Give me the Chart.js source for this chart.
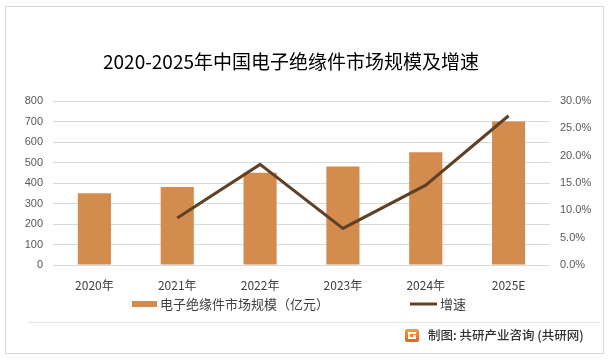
<!DOCTYPE html>
<html>
<head>
<meta charset="utf-8">
<script src="https://cdn.jsdelivr.net/npm/chart.js@4/dist/chart.umd.min.js"></script>
<style>
html,body{margin:0;padding:0;background:#fff;}
canvas{display:block;}
</style>
</head>
<body>
<canvas id="c" width="611" height="361"></canvas>
<script>
const titleText = '2020-2025年中国电子绝缘件市场规模及增速';
const categories = ['2020年', '2021年', '2022年', '2023年', '2024年', '2025E'];
const marketSize = [350, 380, 450, 480, 550, 700];
const growthRate = [null, 8.6, 18.4, 6.7, 14.6, 27.3];
const seriesNames = ['电子绝缘件市场规模（亿元）', '增速'];
const sourceText = '制图: 共研产业咨询 (共研网)';

const BAR_COLOR = '#d48b4e';
const LINE_COLOR = '#5f4128';
const CJK = '"Noto Sans CJK SC", "Noto Sans", sans-serif';

const decor = {
  id: 'decor',
  beforeDraw(chart) {
    const ctx = chart.ctx;
    ctx.save();
    ctx.fillStyle = '#fff';
    ctx.fillRect(0, 0, chart.width, chart.height);
    ctx.restore();
  },
  afterDraw(chart) {
    const ctx = chart.ctx;
    ctx.save();
    // outer border
    ctx.strokeStyle = '#d9d9d9';
    ctx.lineWidth = 1;
    ctx.strokeRect(5.5, 6.5, 598, 347);
    // title
    ctx.fillStyle = '#000';
    ctx.font = '19px ' + CJK;
    ctx.textAlign = 'center';
    ctx.textBaseline = 'middle';
    ctx.fillText(titleText, 291, 62);
    // legend
    ctx.font = '13px ' + CJK;
    ctx.textAlign = 'left';
    ctx.fillStyle = BAR_COLOR;
    ctx.fillRect(132, 301, 25, 6);
    ctx.fillStyle = '#404040';
    ctx.fillText(seriesNames[0], 160, 304);
    ctx.strokeStyle = LINE_COLOR;
    ctx.lineWidth = 3;
    ctx.beginPath();
    ctx.moveTo(410, 304);
    ctx.lineTo(437, 304);
    ctx.stroke();
    ctx.fillText(seriesNames[1], 440, 304);
    // separator
    ctx.strokeStyle = '#e8e8e8';
    ctx.lineWidth = 1;
    ctx.beginPath();
    ctx.moveTo(27, 322.5);
    ctx.lineTo(600, 322.5);
    ctx.stroke();
    // logo
    const g = ctx.createLinearGradient(405, 329, 405, 342);
    g.addColorStop(0, '#f7a13b');
    g.addColorStop(1, '#ef5a2a');
    ctx.fillStyle = g;
    ctx.beginPath();
    ctx.roundRect(405, 329, 14, 13, 2);
    ctx.fill();
    ctx.fillStyle = '#fff';
    ctx.fillRect(408, 332, 8, 2);
    ctx.fillRect(408, 332, 2, 7);
    ctx.fillRect(408, 337, 8, 2);
    ctx.fillRect(413, 335, 3, 2);
    // source
    ctx.fillStyle = '#333';
    ctx.font = '500 12.5px ' + CJK;
    ctx.fillText(sourceText, 428, 335.5);
    ctx.restore();
  }
};

new Chart(document.getElementById('c'), {
  type: 'bar',
  data: {
    labels: categories,
    datasets: [
      {
        type: 'line',
        label: seriesNames[1],
        data: growthRate,
        yAxisID: 'y1',
        borderColor: LINE_COLOR,
        backgroundColor: LINE_COLOR,
        borderWidth: 3,
        pointRadius: 0,
        tension: 0,
        order: 0
      },
      {
        type: 'bar',
        label: seriesNames[0],
        data: marketSize,
        yAxisID: 'y',
        backgroundColor: BAR_COLOR,
        categoryPercentage: 0.8,
        barPercentage: 0.5,
        order: 1
      }
    ]
  },
  options: {
    responsive: false,
    animation: false,
    devicePixelRatio: 1,
    layout: { padding: { top: 101, bottom: 0, left: 0, right: 0 } },
    plugins: { legend: { display: false }, tooltip: { enabled: false }, title: { display: false } },
    scales: {
      x: {
        grid: { display: false, drawTicks: false },
        border: { display: false },
        ticks: { color: '#404040', font: { size: 12, family: CJK }, padding: 13, maxRotation: 0 },
        afterFit(s) { s.height = 96; }
      },
      y: {
        position: 'left',
        min: 0, max: 800,
        ticks: { stepSize: 100, color: '#595959', font: { size: 11, family: '"Liberation Sans", sans-serif' }, padding: 10 },
        grid: { color: '#d9d9d9', drawTicks: false },
        border: { display: false },
        afterFit(s) { s.width = 53; }
      },
      y1: {
        position: 'right',
        min: 0, max: 30,
        ticks: { stepSize: 5, color: '#595959', font: { size: 11, family: '"Liberation Sans", sans-serif' }, padding: 10,
          callback: v => v.toFixed(1) + '%' },
        grid: { display: false, drawTicks: false },
        border: { display: false },
        afterFit(s) { s.width = 61; }
      }
    }
  },
  plugins: [decor]
});
</script>
</body>
</html>
